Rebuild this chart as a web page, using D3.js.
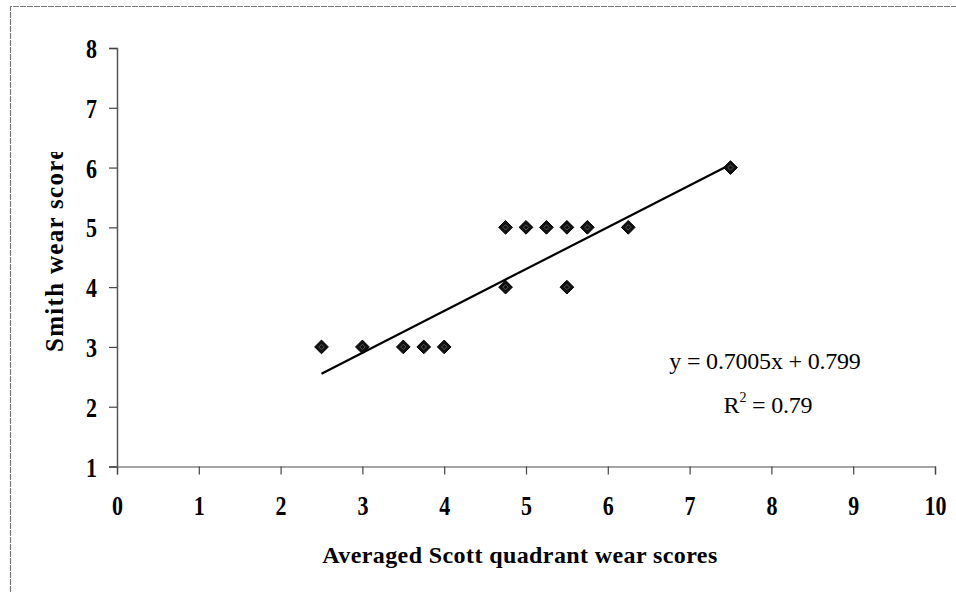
<!DOCTYPE html>
<html>
<head>
<meta charset="utf-8">
<script src="https://cdn.jsdelivr.net/npm/d3@7"></script>
<style>
  html, body { margin: 0; padding: 0; background: #fff; }
  svg { display: block; }
  text { font-family: "Liberation Serif", "Times New Roman", serif; fill: #000; }
</style>
</head>
<body>
<script>
// Averaged Scott quadrant scores vs Smith scores
const scottScores = [2.5, 3, 3.5, 3.75, 4, 4.75, 4.75, 5, 5.25, 5.5, 5.5, 5.75, 6.25, 7.5];
const smithScores = [3, 3, 3, 3, 3, 5, 4, 5, 5, 5, 4, 5, 5, 6];
const xTicks = [0, 1, 2, 3, 4, 5, 6, 7, 8, 9, 10];
const yTicks = [1, 2, 3, 4, 5, 6, 7, 8];
// Linear trendline reported on the chart
const slope = 0.7005;
const intercept = 0.799;
const rSquared = 0.79;
const xTitle = "Averaged Scott quadrant wear scores";
const yTitle = "Smith wear scores";

const W = 956, H = 592;
const svg = d3.select("body").append("svg").attr("width", W).attr("height", H);

// chart area frame (top and left edges)
svg.append("path")
  .attr("d", `M10.5,${H} L10.5,6.5 L${W},6.5`)
  .attr("fill", "none").attr("stroke", "#777").attr("stroke-width", 1.2)
  .attr("stroke-dasharray", "6 1");

const x = d3.scaleLinear().domain([0, 10]).range([117, 935]);
const y = d3.scaleLinear().domain([1, 8]).range([466.5, 48]);

const STRETCH = 1.2; // tick numerals are drawn slightly tall

// y axis
const yAxis = svg.append("g").attr("transform", `translate(${x(0)},0)`)
  .call(d3.axisLeft(y).tickValues(yTicks).tickSize(8).tickFormat(d3.format("d")));
yAxis.select(".domain").attr("stroke", "#555").attr("stroke-width", 1.5);
yAxis.selectAll(".tick line").attr("stroke", "#444").attr("stroke-width", 1.2);
yAxis.selectAll(".tick text")
  .attr("x", 0).attr("y", 0).attr("dy", null)
  .attr("transform", `translate(-20,9.5) scale(1,${STRETCH})`)
  .attr("font-size", 22).attr("font-weight", "bold")
  .attr("font-family", "Liberation Serif, serif").attr("fill", "#000");

// x axis
const xAxis = svg.append("g").attr("transform", `translate(0,${y(1)})`)
  .call(d3.axisBottom(x).tickValues(xTicks).tickSize(8).tickFormat(d3.format("d")));
xAxis.select(".domain").attr("stroke", "#888").attr("stroke-width", 1.5);
xAxis.selectAll(".tick line").attr("stroke", "#444").attr("stroke-width", 1.2);
xAxis.selectAll(".tick text")
  .attr("x", 0).attr("y", 0).attr("dy", null)
  .attr("transform", `translate(0,48.5) scale(1,${STRETCH})`)
  .attr("font-size", 22).attr("font-weight", "bold")
  .attr("font-family", "Liberation Serif, serif").attr("fill", "#000");

// trendline over the range of the data
const xr = d3.extent(scottScores);
svg.append("line")
  .attr("x1", x(xr[0])).attr("y1", y(slope * xr[0] + intercept))
  .attr("x2", x(xr[1])).attr("y2", y(slope * xr[1] + intercept))
  .attr("stroke", "#000").attr("stroke-width", 2.2);

// diamond markers
const pts = scottScores.map((v, i) => [v, smithScores[i]]);
const diamond = d3.symbol().type(d3.symbolDiamond2).size(120);
const mk = svg.append("g").selectAll("g").data(pts).join("g")
  .attr("transform", d => `translate(${x(d[0])},${y(d[1])})`);
mk.append("path").attr("d", diamond).attr("fill", "#111").attr("stroke", "#000").attr("stroke-width", 1);
mk.append("path").attr("d", d3.symbol().type(d3.symbolDiamond2).size(18))
  .attr("fill", "none").attr("stroke", "#666").attr("stroke-width", 0.8);

// equation text
svg.append("text").attr("x", 765).attr("y", 369).attr("text-anchor", "middle")
  .attr("font-size", 24).attr("letter-spacing", -0.2)
  .text(`y = ${slope}x + ${intercept}`);
const r2 = svg.append("text").attr("x", 768).attr("y", 413).attr("text-anchor", "middle")
  .attr("font-size", 24).attr("letter-spacing", -0.2);
r2.append("tspan").text("R");
r2.append("tspan").attr("dy", -11).attr("font-size", 14).text("2");
r2.append("tspan").attr("dy", 11).text(` = ${rSquared}`);

// axis titles
svg.append("text").attr("x", 520).attr("y", 563).attr("text-anchor", "middle")
  .attr("font-size", 24).attr("font-weight", "bold").attr("letter-spacing", 0.4)
  .text(xTitle);

svg.append("clipPath").attr("id", "ytclip").append("rect")
  .attr("x", 0).attr("y", 152).attr("width", 110).attr("height", 400);
svg.append("g").attr("clip-path", "url(#ytclip)")
  .append("text")
  .attr("transform", "translate(63,352) rotate(-90)")
  .attr("text-anchor", "start")
  .attr("font-size", 25).attr("font-weight", "bold").attr("letter-spacing", 1.3)
  .text(yTitle);
</script>
</body>
</html>
